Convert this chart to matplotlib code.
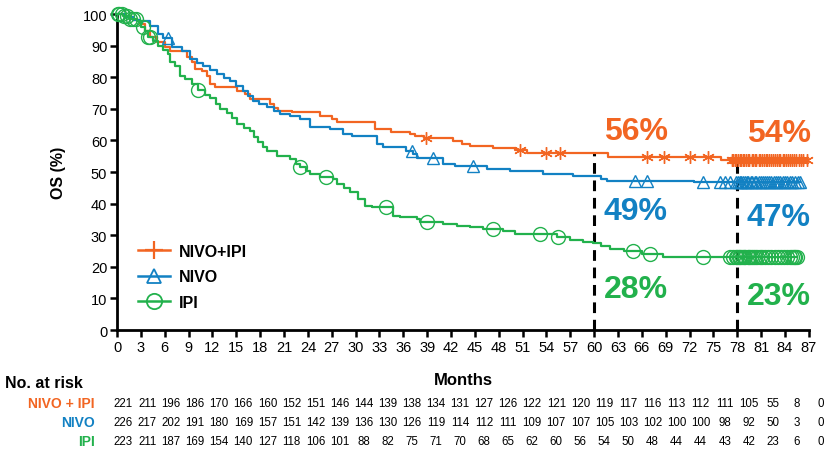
import numpy as np
import matplotlib.pyplot as plt
from matplotlib.lines import Line2D
from matplotlib.transforms import blended_transform_factory

plt.rcParams['font.family'] = ['Liberation Sans', 'DejaVu Sans']

ORANGE = '#F26522'
BLUE = '#1281C3'
GREEN = '#22B14C'

# Kaplan-Meier step curves (month, OS %)
combo_t = [0, 1.0, 2.0, 2.9, 3.5, 4.2, 5.0, 6.0, 6.7, 8.8, 9.4, 9.8, 10.7, 11.3, 11.7,
           12.3, 15.1, 16.1, 16.7, 19.2, 19.8, 20.3, 22.0, 25.5, 27.0, 27.6, 32.5, 34.5,
           36.9, 37.5, 38.6, 42.3, 43.4, 44.4, 47.3, 50.0, 51.6, 61.8, 76.0]
combo_s = [100, 99.0, 98.0, 96.8, 94.5, 92.7, 91.0, 89.5, 88.3, 86.5, 84.8, 82.6, 82.0, 80.4, 77.8,
           76.9, 75.6, 74.7, 73.1, 71.5, 70.2, 69.3, 69.0, 67.8, 66.8, 65.7, 63.6, 62.6,
           62.0, 61.3, 60.8, 59.9, 58.9, 58.2, 57.6, 57.0, 56.0, 54.6, 53.9]
combo_cens = [38.8, 50.7, 53.9, 55.7, 66.7, 68.8, 72.1, 74.3,
              77.3, 77.5, 77.7, 77.9, 78.1, 78.3, 78.5, 78.7, 78.9, 79.1, 79.3, 79.5, 79.8,
              80.0, 80.2, 80.4, 80.7, 80.9, 81.1, 81.3, 81.6, 81.8, 82.0, 82.3, 82.5, 82.7,
              83.0, 83.2, 83.4, 83.7, 83.9, 84.1, 84.4, 84.6, 84.9, 85.1, 85.4, 85.7, 86.0,
              86.3, 86.8]

nivo_t = [0, 1.0, 2.0, 2.9, 4.2, 5.2, 5.8, 6.9, 8.2, 9.2, 10.0, 10.8, 11.7, 12.6, 13.4,
          14.2, 15.0, 15.8, 16.5, 17.1, 17.8, 18.9, 19.8, 20.5, 21.8, 23.0, 24.3, 26.8,
          28.4, 29.6, 32.7, 33.5, 36.4, 37.2, 37.7, 41.0, 42.5, 46.5, 49.4, 53.6, 57.4,
          60.8, 61.6, 72.5]
nivo_s = [100, 99.1, 98.2, 97.8, 96.2, 93.7, 92.5, 89.6, 88.3, 85.8, 84.6, 83.5, 82.3, 81.0, 79.8,
          78.8, 77.2, 75.6, 74.0, 72.5, 71.5, 70.6, 69.3, 68.4, 67.7, 66.8, 64.2, 63.6,
          62.0, 61.4, 58.9, 58.0, 56.7, 55.7, 54.3, 52.5, 51.8, 50.9, 50.3, 49.5, 48.8,
          47.8, 47.2, 46.7]
nivo_cens = [6.4, 37.1, 39.7, 44.8, 65.2, 66.7, 73.7, 75.8, 76.5, 77.1,
             77.9, 78.1, 78.3, 78.5, 78.7, 79.0, 79.2, 79.4, 79.7, 79.9, 80.2, 80.4, 80.7,
             81.0, 81.2, 81.5, 81.8, 82.0, 82.3, 82.6, 82.9, 83.1, 83.4, 83.7, 84.0, 84.3,
             84.6, 84.9, 85.2, 85.6, 85.9]

ipi_t = [0, 0.8, 1.5, 2.5, 3.0, 3.5, 3.9, 4.5, 5.2, 5.8, 6.4, 6.7, 7.3, 7.9, 8.6, 9.4,
         10.2, 11.0, 11.7, 12.4, 13.0, 13.8, 14.5, 15.1, 16.0, 16.7, 17.2, 17.7, 18.3,
         18.9, 20.1, 21.8, 22.5, 23.0, 23.8, 24.3, 25.5, 27.2, 27.7, 28.5, 29.3, 30.3,
         31.2, 32.1, 34.7, 35.6, 37.7, 38.1, 41.0, 42.8, 44.4, 46.0, 48.6, 50.1, 55.3,
         57.0, 58.6, 59.9, 60.8, 62.0, 63.7, 66.0, 68.7]
ipi_s = [100, 99.5, 98.5, 97.8, 96.0, 94.6, 92.7, 91.5, 89.9, 88.5, 87.3, 84.8, 83.5, 80.4, 79.5, 77.8,
         75.9, 74.5, 73.5, 71.5, 69.9, 68.8, 67.0, 65.2, 64.0, 63.0, 61.0, 59.5, 58.0,
         56.6, 55.1, 54.1, 52.5, 51.6, 50.4, 49.4, 48.5, 47.8, 46.2, 45.0, 43.7, 41.5,
         39.2, 38.9, 36.1, 35.8, 35.1, 34.2, 33.5, 32.9, 32.6, 32.0, 31.4, 30.4, 29.4,
         28.6, 27.9, 27.4, 26.6, 25.6, 25.0, 24.0, 23.1]
ipi_cens = [0.1, 0.3, 0.6, 0.9, 1.2, 1.6, 2.0, 2.4, 3.3, 3.9, 4.1, 10.2, 23.0, 26.3, 33.8,
            39.0, 47.3, 53.2, 55.5, 64.9, 67.0, 73.7, 77.1,
            77.5, 77.8, 78.0, 78.2, 78.4, 78.6, 78.8, 79.0, 79.3, 79.5, 79.7, 80.0, 80.2,
            80.5, 80.8, 81.1, 81.5, 81.9, 82.3, 82.7, 83.1, 83.5, 83.9, 84.3, 84.6, 84.9,
            85.1, 85.3, 85.5]

# landmark estimates
landmarks = [60, 78]
combo_pct = ['56%', '54%']
nivo_pct = ['49%', '47%']
ipi_pct = ['28%', '23%']

# numbers at risk
risk_months = list(range(0, 88, 3))
combo_risk = [221, 211, 196, 186, 170, 166, 160, 152, 151, 146, 144, 139, 138, 134, 131,
              127, 126, 122, 121, 120, 119, 117, 116, 113, 112, 111, 105, 55, 8, 0]
nivo_risk = [226, 217, 202, 191, 180, 169, 157, 151, 142, 139, 136, 130, 126, 119, 114,
             112, 111, 109, 107, 107, 105, 103, 102, 100, 100, 98, 92, 50, 3, 0]
ipi_risk = [223, 211, 187, 169, 154, 140, 127, 118, 106, 101, 88, 82, 75, 71, 70,
            68, 65, 62, 60, 56, 54, 50, 48, 44, 44, 43, 42, 23, 6, 0]


def surv_at(times, t, s):
    idx = np.searchsorted(t, times, side='right') - 1
    return np.asarray(s)[idx]


fig = plt.figure(figsize=(8.33, 4.56), dpi=100)
ax = fig.add_axes([0.1405, 0.2741, 0.8305, 0.6930])

arms = [
    (combo_t, combo_s, combo_cens, ORANGE, (6, 2, 0), 9),
    (nivo_t, nivo_s, nivo_cens, BLUE, '^', 9),
    (ipi_t, ipi_s, ipi_cens, GREEN, 'o', 10),
]
for t, s, cens, col, mk, ms in arms:
    ax.step(list(t) + [cens[-1]], list(s) + [s[-1]], where='post', color=col,
            lw=1.6, zorder=3, clip_on=False)
    ax.plot(cens, surv_at(cens, t, s), linestyle='none', marker=mk, ms=ms,
            mfc='none', mec=col, mew=1.0, zorder=4, clip_on=False)

# landmark dashed lines
for lm in landmarks:
    ax.plot([lm, lm], [0, surv_at([lm], combo_t, combo_s)[0]], color='black', lw=2.2,
            linestyle=(0, (3.5, 2.2)), zorder=2)

pct_y = [(combo_pct, ORANGE, [63.0, 62.3]), (nivo_pct, BLUE, [37.7, 35.8]),
         (ipi_pct, GREEN, [13.0, 10.8])]
for labels, col, ys in pct_y:
    for lm, lab, yy in zip(landmarks, labels, ys):
        ax.text(lm + 1.2, yy, lab, color=col, fontsize=23, fontweight='bold',
                ha='left', va='center')

ax.set_xlim(0, 87)
ax.set_ylim(0, 100)
ax.set_xticks(risk_months)
ax.set_yticks(range(0, 101, 10))
ax.tick_params(axis='both', direction='out', length=5, width=1.8, labelsize=10.5, pad=2)
for side in ['top', 'right']:
    ax.spines[side].set_visible(False)
for side in ['left', 'bottom']:
    ax.spines[side].set_linewidth(2)
ax.set_ylabel('OS (%)', fontsize=11.5, fontweight='bold', labelpad=12)

handles = [
    Line2D([], [], color=ORANGE, lw=1.8, marker='+', ms=13, mew=1.6),
    Line2D([], [], color=BLUE, lw=1.8, marker='^', ms=10, mfc='none', mew=1.3),
    Line2D([], [], color=GREEN, lw=1.8, marker='o', ms=11, mfc='none', mew=1.3),
]
ax.legend(handles, ['NIVO+IPI', 'NIVO', 'IPI'], loc='center left',
          bbox_to_anchor=(0.03, 0.168), frameon=False, prop={'weight': 'bold', 'size': 11.5},
          handlelength=2.0, handletextpad=0.6, labelspacing=0.65, borderpad=0,
          borderaxespad=0)

# risk table
fig.text(463 / 833, 1 - 381 / 456, 'Months', ha='center', va='center', fontsize=12,
         fontweight='bold')
fig.text(5 / 833, 1 - 384 / 456, 'No. at risk', ha='left', va='center', fontsize=11.5,
         fontweight='bold')
trans = blended_transform_factory(ax.transData, fig.transFigure)
rows = [('NIVO + IPI', ORANGE, combo_risk, 404), ('NIVO', BLUE, nivo_risk, 423),
        ('IPI', GREEN, ipi_risk, 442)]
for name, col, vals, py in rows:
    yy = 1 - py / 456
    fig.text(95 / 833, yy, name, ha='right', va='center', fontsize=10, color=col,
             fontweight='bold')
    for m, v in zip(risk_months, vals):
        ax.text(m * 1.009 + 0.75, yy, str(v), transform=trans, ha='center', va='center',
                fontsize=8.3, clip_on=False)

fig.savefig('out.png', dpi=100)
